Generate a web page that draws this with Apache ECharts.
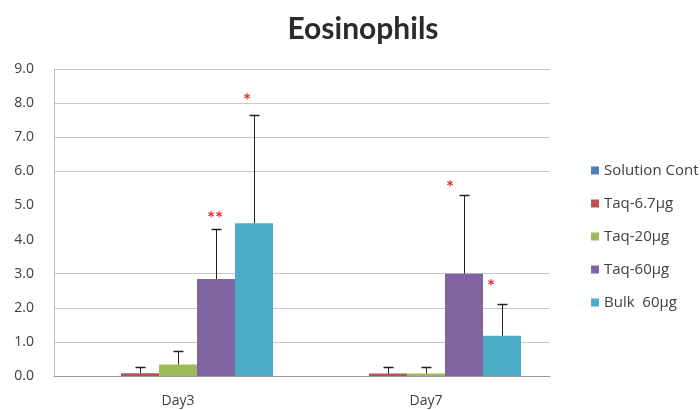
<!DOCTYPE html>
<html>
<head>
<meta charset="utf-8">
<script src="https://cdn.jsdelivr.net/npm/echarts@6/dist/echarts.min.js"></script>
<style>
  html, body { margin: 0; padding: 0; background: #fff; }
  #chart { width: 700px; height: 410px; }
</style>
</head>
<body>
<div id="chart"></div>
<script>
// Eosinophil counts per group, mean with upper standard deviation
const categories = ['Day3', 'Day7'];
const seriesNames = ['Solution Cont', 'Taq-6.7μg', 'Taq-20μg', 'Taq-60μg', 'Bulk  60μg'];
const solutionCont = [0, 0];
const taq67 = [0.08, 0.07];
const taq20 = [0.34, 0.07];
const taq60 = [2.84, 3.0];
const bulk60 = [4.48, 1.18];
const errSolutionCont = [0, 0];
const errTaq67 = [0.17, 0.2];
const errTaq20 = [0.39, 0.2];
const errTaq60 = [1.47, 2.32];
const errBulk60 = [3.18, 0.93];
// significance marks
const starsTaq60 = ['**', '*'];
const starsBulk60 = ['*', '*'];
const yTicks = ['0.0', '1.0', '2.0', '3.0', '4.0', '5.0', '6.0', '7.0', '8.0', '9.0'];

const colors = ['#4F81BD', '#C0504D', '#9BBB59', '#8064A2', '#4BACC6'];
const values = [solutionCont, taq67, taq20, taq60, bulk60];
const errors = [errSolutionCont, errTaq67, errTaq20, errTaq60, errBulk60];
const stars = [['', ''], ['', ''], ['', ''], starsTaq60, starsBulk60];
const BAR_W = 38;
// nudges for the significance marks, in pixels [dx, rise above the whisker top]
const starNudge = [
  [null, null, null, [-1, 14], [-7, 18]],
  [null, null, null, [-14, 11], [-11, 21]]
];
const STAR_GLYPH_LIFT = 4; // an asterisk sits high in its em box

const font = 'Lato, "Open Sans", sans-serif';
const labelFont = '"Open Sans", Lato, sans-serif';
const chart = echarts.init(document.getElementById('chart'));

const barSeries = seriesNames.map((name, s) => ({
  name: name,
  type: 'bar',
  data: values[s],
  barWidth: BAR_W,
  barGap: '0%',
  itemStyle: { color: colors[s] },
  z: 2
}));

// whiskers + significance stars, drawn over the bars
const errData = [];
for (let s = 0; s < seriesNames.length; s++) {
  for (let c = 0; c < categories.length; c++) {
    errData.push([c, values[s][c], values[s][c] + errors[s][c], s]);
  }
}

const errSeries = {
  type: 'custom',
  name: 'err',
  data: errData,
  z: 5,
  silent: true,
  encode: { x: 0, y: [1, 2] },
  renderItem: function (params, api) {
    const c = api.value(0);
    const s = api.value(3);
    const base = api.coord([c, api.value(1)]);
    const top = api.coord([c, api.value(2)]);
    const xc = base[0] + (s - 2) * BAR_W;
    const x = Math.round(xc) + 0.5;
    const yTop = Math.round(top[1]) + 0.5;
    const children = [];
    if (api.value(2) > api.value(1)) {
      children.push({
        type: 'line',
        shape: { x1: x, y1: base[1], x2: x, y2: yTop },
        style: { stroke: '#222', lineWidth: 1 }
      });
      children.push({
        type: 'line',
        shape: { x1: x - 5, y1: yTop, x2: x + 5, y2: yTop },
        style: { stroke: '#222', lineWidth: 1.5 }
      });
    }
    const mark = stars[s][c];
    if (mark) {
      const n = starNudge[c][s];
      children.push({
        type: 'text',
        x: xc + n[0],
        y: top[1] - n[1] + STAR_GLYPH_LIFT,
        style: {
          text: mark,
          fill: '#E0303A',
          font: 'bold 19px ' + font,
          align: 'center',
          verticalAlign: 'middle'
        }
      });
    }
    return { type: 'group', children: children };
  }
};

chart.setOption({
  animation: false,
  backgroundColor: '#fff',
  title: {
    text: 'Eosinophils',
    left: 358,
    top: 9,
    textAlign: 'center',
    textStyle: { fontFamily: font, fontWeight: 'bold', fontSize: 30, color: '#2b2b2b' }
  },
  legend: {
    data: seriesNames,
    orient: 'vertical',
    left: 586,
    top: 158,
    itemWidth: 8,
    itemHeight: 8,
    itemGap: 18,
    icon: 'rect',
    textStyle: { fontFamily: labelFont, fontSize: 15, color: '#404040' }
  },
  grid: { left: 54, right: 150, top: 69, bottom: 34 },
  xAxis: {
    type: 'category',
    data: categories,
    axisTick: { show: false },
    axisLine: { lineStyle: { color: '#999' } },
    axisLabel: { fontFamily: labelFont, fontSize: 14, color: '#404040', margin: 18 }
  },
  yAxis: {
    type: 'value',
    min: 0,
    max: 9,
    interval: 1,
    axisLine: { show: true, lineStyle: { color: '#bbb' } },
    axisTick: { show: false },
    axisLabel: {
      fontFamily: labelFont, fontSize: 14, color: '#404040', margin: 20,
      formatter: function (v) { return yTicks[Math.round(v)]; }
    },
    splitLine: {
      lineStyle: {
        color: ['#c8c8c8', '#c8c8c8', '#c8c8c8', '#c8c8c8', 'rgba(0,0,0,0)', 'rgba(0,0,0,0)',
                '#c8c8c8', '#c8c8c8', '#c8c8c8', '#c8c8c8'],
        width: 1
      }
    }
  },
  series: barSeries.concat([errSeries])
});
</script>
</body>
</html>
